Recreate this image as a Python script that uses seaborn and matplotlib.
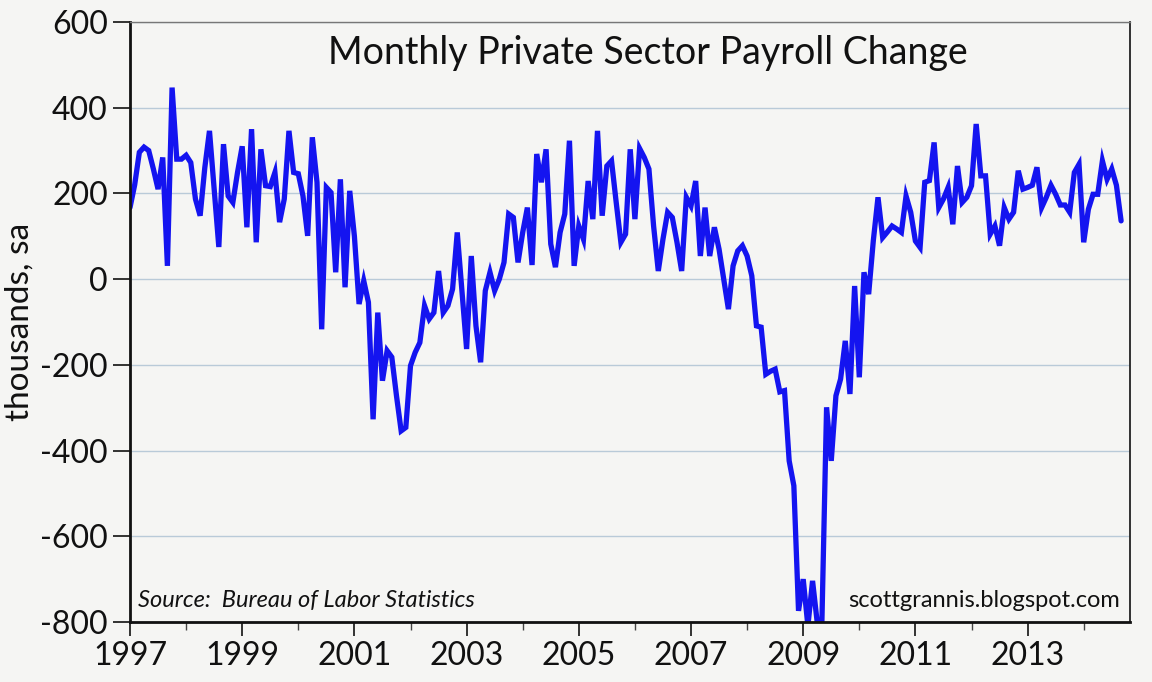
import numpy as np
import pandas as pd
import matplotlib
matplotlib.use("Agg")
import matplotlib.pyplot as plt
import seaborn as sns
from matplotlib.ticker import FixedLocator

# Monthly private sector payroll change (thousands, sa), month-end Dec 1996 .. Aug 2014
start_year = 1997.0
payroll_change = [
    167, 220, 296, 308, 300, 257, 210, 284, 31, 447, 280, 280,
    289, 272, 187, 148, 260, 346, 210, 75, 315, 194, 179, 249,
    310, 121, 350, 86, 303, 218, 216, 249, 133, 187, 346, 249,
    246, 194, 101, 331, 226, -117, 214, 202, 16, 233, -19, 206,
    100, -58, -4, -54, -327, -78, -237, -167, -182, -272, -354, -346,
    -202, -171, -148, -62, -93, -78, 19, -78, -62, -23, 109, -27,
    -163, 54, -109, -194, -27, 16, -27, 0, 39, 152, 144, 39,
    109, 167, 33, 292, 226, 303, 82, 28, 109, 152, 323, 31,
    124, 93, 229, 140, 346, 148, 264, 276, 179, 86, 105, 303,
    140, 305, 284, 257, 124, 19, 93, 156, 144, 86, 19, 191,
    171, 229, 54, 167, 54, 121, 70, 0, -70, 31, 66, 78,
    54, 8, -109, -112, -222, -215, -210, -263, -260, -424, -482, -774,
    -700, -809, -704, -801, -800, -299, -424, -272, -233, -144, -268, -16,
    -229, 16, -35, 90, 191, 97, 110, 124, 117, 109, 194, 156,
    89, 74, 226, 230, 319, 167, 187, 214, 128, 264, 179, 191,
    218, 362, 241, 241, 105, 124, 78, 167, 140, 156, 253, 210,
    214, 219, 261, 167, 191, 219, 198, 173, 173, 156, 249, 268,
    86, 163, 198, 198, 276, 233, 257, 219, 136,
]
years = [start_year + i / 12.0 for i in range(len(payroll_change))]

labeled_years = [1997, 1999, 2001, 2003, 2005, 2007, 2009, 2011, 2013]
minor_years = [1998, 2000, 2002, 2004, 2006, 2008, 2010, 2012, 2014]
y_ticks = [-800, -600, -400, -200, 0, 200, 400, 600]

title = "Monthly Private Sector Payroll Change"
y_label = "thousands, sa"
source = "Source:  Bureau of Labor Statistics"
credit = "scottgrannis.blogspot.com"

df = pd.DataFrame({"year": years, "change": payroll_change})

sns.set_theme(style="white")
plt.rcParams["font.family"] = ["Lato", "DejaVu Sans"]

bg = "#f5f5f3"
fig = plt.figure(figsize=(11.52, 6.82), dpi=100, facecolor=bg)
ax = fig.add_axes([130 / 1152, 1 - 622 / 682, 1000 / 1152, 600 / 682])
ax.set_facecolor(bg)

for t in y_ticks:
    ax.axhline(t, color="#b9cad8", lw=1.0, zorder=1)

sns.lineplot(data=df, x="year", y="change", ax=ax, color="#1414f0", lw=3.8,
             zorder=3, solid_joinstyle="miter")

ax.set_xlim(1997.0, 1997.0 + 1000 / 56.1)
ax.set_ylim(-800, 600)
ax.set_xlabel("")
ax.set_ylabel(y_label, fontsize=24, va="center", color="#111111")
ax.yaxis.set_label_coords(-0.11, 0.5)

ax.xaxis.set_major_locator(FixedLocator(labeled_years))
ax.xaxis.set_minor_locator(FixedLocator(minor_years))
ax.set_xticklabels([str(y) for y in labeled_years])
ax.set_yticks(y_ticks)
ax.set_yticklabels([str(v) for v in y_ticks])
ax.tick_params(axis="x", which="major", direction="out", length=10, width=1.2,
               colors="#111111", labelsize=23, pad=4, bottom=True)
ax.tick_params(axis="x", which="minor", direction="out", length=6, width=1.0,
               colors="#444444", bottom=True)
ax.tick_params(axis="y", which="major", direction="out", length=12, width=1.2,
               colors="#111111", labelsize=23, pad=4, left=True)

for side in ["left", "bottom"]:
    ax.spines[side].set_color("#111111")
    ax.spines[side].set_linewidth(2.0)
ax.spines["right"].set_color("#222222")
ax.spines["right"].set_linewidth(1.3)
ax.spines["top"].set_color("#777777")
ax.spines["top"].set_linewidth(1.0)
for s in ax.spines.values():
    s.set_zorder(5)

ax.text(0.518, 0.978, title, transform=ax.transAxes, ha="center", va="top",
        fontsize=27, color="#111111")
ax.text(0.008, 0.018, source, transform=ax.transAxes, ha="left", va="bottom",
        fontsize=17, style="italic", color="#111111")
ax.text(0.99, 0.018, credit, transform=ax.transAxes, ha="right", va="bottom",
        fontsize=17, color="#111111")

fig.savefig("out.png", dpi=100, facecolor=bg)
